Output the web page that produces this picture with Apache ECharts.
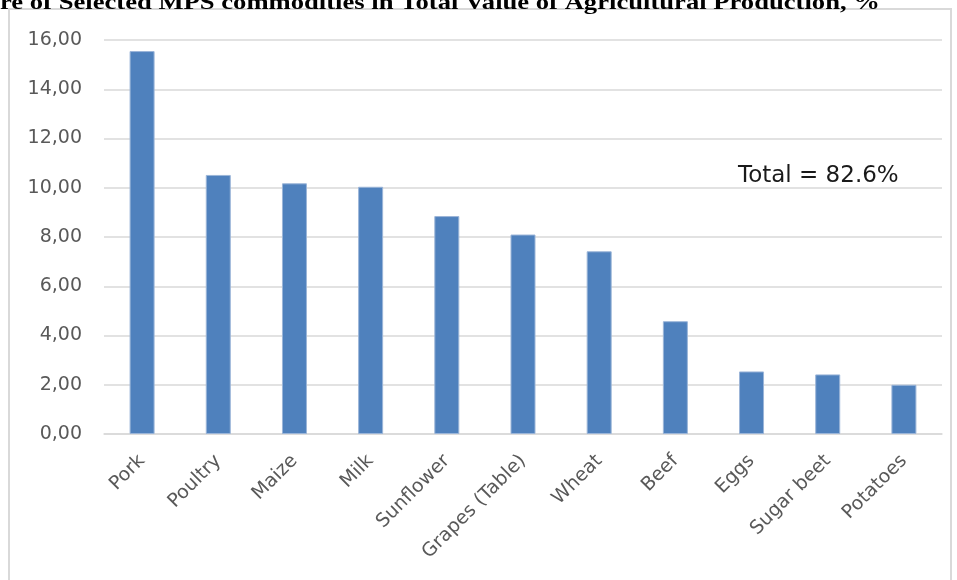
<!DOCTYPE html>
<html>
<head>
<meta charset="utf-8">
<script src="https://cdn.jsdelivr.net/npm/echarts@6/dist/echarts.min.js"></script>
<style>
html,body{margin:0;padding:0;background:#fff;}
#chart{width:957px;height:580px;}
</style>
</head>
<body>
<div id="chart"></div>
<script>
var categories = ['Pork','Poultry','Maize','Milk','Sunflower','Grapes (Table)','Wheat','Beef','Eggs','Sugar beet','Potatoes'];
var shares = [15.55, 10.52, 10.18, 10.04, 8.85, 8.1, 7.42, 4.58, 2.54, 2.42, 2.0];
var yTicks = [0, 2, 4, 6, 8, 10, 12, 14, 16];
var titleText = 're of Selected MPS commodities in Total Value of Agricultural Production, %';
var noteText = 'Total = 82.6%';

var chart = echarts.init(document.getElementById('chart'));
var labelFont = 'DejaVu Sans';
chart.setOption({
  animation: false,
  backgroundColor: '#ffffff',
  grid: {left: 104, right: 15, top: 40, bottom: 146, containLabel: false},
  xAxis: {
    type: 'category',
    data: categories,
    axisTick: {show: false},
    axisLine: {show: true, lineStyle: {color: '#d9d9d9', width: 1.5}},
    axisLabel: {rotate: 45, color: '#595959', fontFamily: labelFont, fontSize: 19, margin: 24, interval: 0}
  },
  yAxis: {
    type: 'value',
    min: yTicks[0],
    max: yTicks[yTicks.length - 1],
    interval: 2,
    axisLine: {show: false},
    axisTick: {show: false},
    splitLine: {lineStyle: {color: '#d9d9d9', width: 1.5}},
    axisLabel: {
      color: '#595959', fontFamily: labelFont, fontSize: 19, margin: 22,
      formatter: function (v) { return v.toFixed(2).replace('.', ','); }
    }
  },
  series: [{
    type: 'bar',
    data: shares,
    barWidth: 25,
    itemStyle: {color: '#4f81bd', borderColor: '#9bb5d8', borderWidth: 1}
  }],
  graphic: [
    {type: 'rect', shape: {x: 9, y: 9, width: 942, height: 620},
     style: {fill: 'none', stroke: '#d9d9d9', lineWidth: 2}, silent: true},
    {type: 'text', x: 0, y: 3, scaleX: 1.21,
     style: {text: titleText, font: 'bold 22px "Liberation Serif"', fill: '#000', textAlign: 'left', textVerticalAlign: 'middle', verticalAlign: 'middle'}},
    {type: 'text', x: 738, y: 176,
     style: {text: noteText, font: '23px "DejaVu Sans"', fill: '#1a1a1a', textAlign: 'left', textVerticalAlign: 'middle', verticalAlign: 'middle'}}
  ]
});
</script>
</body>
</html>
